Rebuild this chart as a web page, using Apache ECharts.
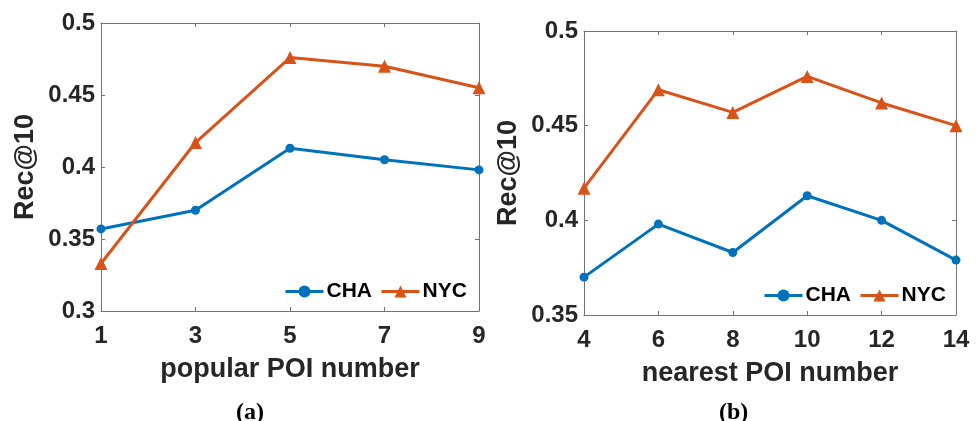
<!DOCTYPE html>
<html>
<head>
<meta charset="utf-8">
<script src="https://cdn.jsdelivr.net/npm/echarts@6/dist/echarts.min.js"></script>
<style>
html,body{margin:0;padding:0;background:#fff;}
#c{width:976px;height:421px;}
</style>
</head>
<body>
<div id="c"></div>
<script>
// ---- data ----
var catsA = ['1', '3', '5', '7', '9'];
var chaA = [0.357, 0.370, 0.413, 0.405, 0.398];
var nycA = [0.333, 0.417, 0.476, 0.470, 0.455];

var catsB = ['4', '6', '8', '10', '12', '14'];
var chaB = [0.370, 0.398, 0.383, 0.413, 0.400, 0.379];
var nycB = [0.417, 0.469, 0.457, 0.476, 0.462, 0.450];

var xNameA = 'popular POI number';
var xNameB = 'nearest POI number';
var yName = 'Rec@10';
var seriesNames = ['CHA', 'NYC'];

var BLUE = '#0072BD', ORANGE = '#D95319';
var AXC = '#737373', TXT = '#262626';
var FONT = '"Liberation Sans", Arial, sans-serif';

function xMain(cats, grid, name) {
  return {
    type: 'category', gridIndex: grid, data: cats, boundaryGap: false,
    position: 'bottom',
    axisLine: {show: true, lineStyle: {color: AXC, width: 1}},
    axisTick: {show: true, inside: true, length: 4, alignWithLabel: true, lineStyle: {color: AXC}},
    axisLabel: {color: TXT, fontFamily: FONT, fontWeight: 'bold', fontSize: 24, margin: 13},
    splitLine: {show: false},
    name: name, nameLocation: 'middle', nameGap: 45,
    nameTextStyle: {color: TXT, fontFamily: FONT, fontWeight: 'bold', fontSize: 27}
  };
}
function xTop(cats, grid) {
  return {
    type: 'category', gridIndex: grid, data: cats, boundaryGap: false,
    position: 'top',
    axisLine: {show: true, lineStyle: {color: AXC, width: 1}},
    axisTick: {show: true, inside: true, length: 4, alignWithLabel: true, lineStyle: {color: AXC}},
    axisLabel: {show: false}, splitLine: {show: false}
  };
}
function yMain(min, max, grid) {
  return {
    type: 'value', gridIndex: grid, min: min, max: max, interval: 0.05,
    position: 'left',
    axisLine: {show: true, lineStyle: {color: AXC, width: 1}},
    axisTick: {show: true, inside: true, length: 4, lineStyle: {color: AXC}},
    axisLabel: {color: TXT, fontFamily: FONT, fontWeight: 'bold', fontSize: 24, margin: 6,
      formatter: function (v) { return String(+v.toFixed(2)); }},
    splitLine: {show: false},
    name: yName, nameLocation: 'middle', nameGap: 62, nameRotate: 90,
    nameTextStyle: {color: TXT, fontFamily: FONT, fontWeight: 'bold', fontSize: 27}
  };
}
function yRight(min, max, grid) {
  return {
    type: 'value', gridIndex: grid, min: min, max: max, interval: 0.05,
    position: 'right',
    axisLine: {show: true, lineStyle: {color: AXC, width: 1}},
    axisTick: {show: true, inside: true, length: 4, lineStyle: {color: AXC}},
    axisLabel: {show: false}, splitLine: {show: false}
  };
}
function line(name, data, xi, yi, color, symbol, size) {
  return {
    name: name, type: 'line', xAxisIndex: xi, yAxisIndex: yi, data: data,
    symbol: symbol, symbolSize: size, showSymbol: true,
    lineStyle: {color: color, width: 3},
    itemStyle: {color: color, borderWidth: 0},
    animation: false
  };
}
function legend(left, top) {
  return {
    data: seriesNames, left: left, top: top, orient: 'horizontal',
    itemWidth: 38, itemHeight: 15, itemGap: 8, selectedMode: false,
    backgroundColor: 'rgba(0,0,0,0)', borderWidth: 0, padding: 0,
    lineStyle: {width: 3},
    textStyle: {color: '#000', fontFamily: FONT, fontWeight: 'bold', fontSize: 21, padding: [0, 0, 0, -2]}
  };
}
function caption(letter, left) {
  return {
    text: '{p|(}{b|' + letter + '}{p|)}', left: left, top: 396,
    textStyle: {rich: {
      p: {fontFamily: '"Liberation Serif", serif', fontSize: 24, color: '#000'},
      b: {fontFamily: '"Liberation Serif", serif', fontSize: 24, fontWeight: 'bold', color: '#000'}
    }}
  };
}

var chart = echarts.init(document.getElementById('c'), null, {renderer: 'canvas'});
chart.setOption({
  backgroundColor: '#fff',
  animation: false,
  grid: [
    {left: 101, top: 23, width: 378, height: 288, containLabel: false},
    {left: 584, top: 31, width: 372, height: 284, containLabel: false}
  ],
  xAxis: [xMain(catsA, 0, xNameA), xTop(catsA, 0), xMain(catsB, 1, xNameB), xTop(catsB, 1)],
  yAxis: [yMain(0.3, 0.5, 0), yRight(0.3, 0.5, 0), yMain(0.35, 0.5, 1), yRight(0.35, 0.5, 1)],
  legend: [legend(284, 281), legend(763, 285)],
  title: [caption('a', 231), caption('b', 714)],
  series: [
    line('CHA', chaA, 0, 0, BLUE, 'circle', 9),
    line('NYC', nycA, 0, 0, ORANGE, 'triangle', 13),
    line('CHA', chaB, 2, 2, BLUE, 'circle', 9),
    line('NYC', nycB, 2, 2, ORANGE, 'triangle', 13)
  ]
});
</script>
</body>
</html>
